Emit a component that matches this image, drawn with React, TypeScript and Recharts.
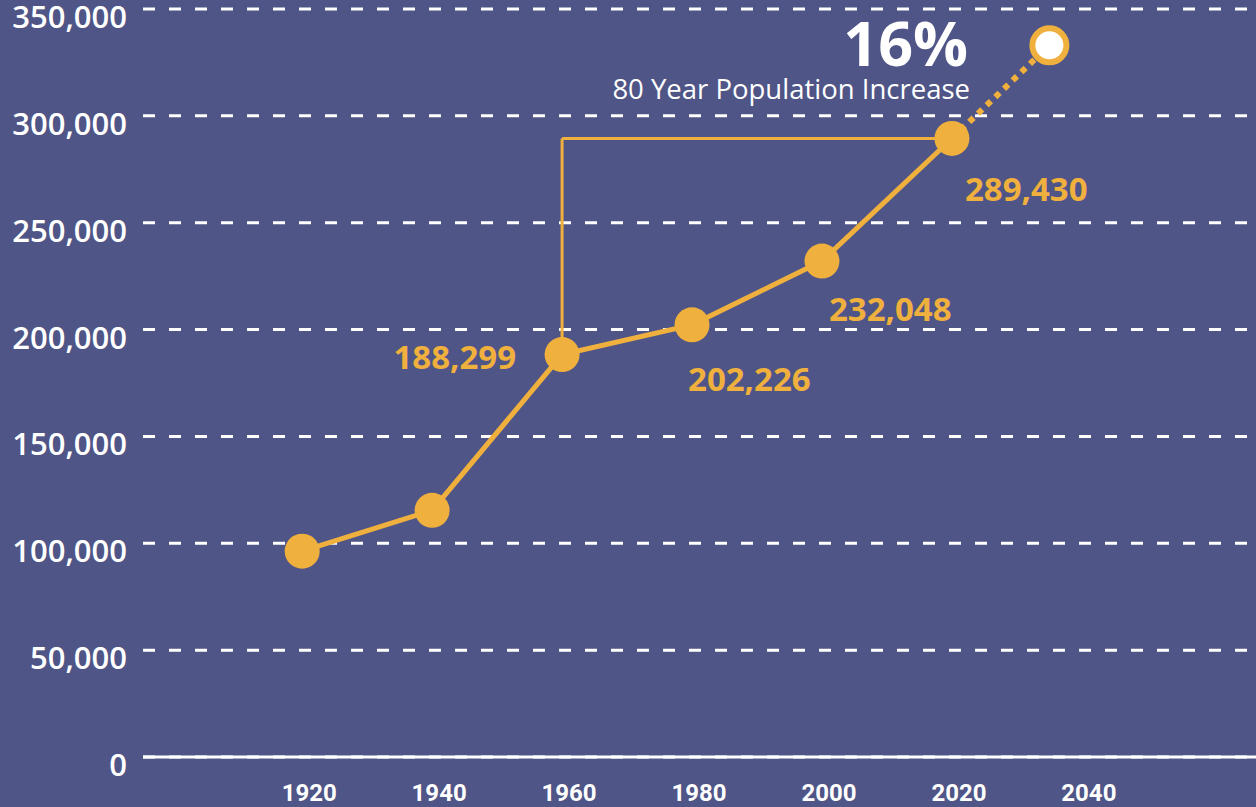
import { LineChart, Line, XAxis, YAxis, CartesianGrid, ReferenceLine, LabelList, Customized } from 'recharts';

const years = [1920, 1940, 1960, 1980, 2000, 2020];
const population = [96300, 115400, 188299, 202226, 232048, 289430];
const projectionYear = 2035;
const projectionValue = 333000;
const yTicks = [0, 50000, 100000, 150000, 200000, 250000, 300000, 350000];
const xTicks = [1920, 1940, 1960, 1980, 2000, 2020, 2040];
const headline = '16%';
const subline = '80 Year Population Increase';

const BG = '#4f5586';
const ORANGE = '#f0b03e';
const FONT = '"Open Sans", "Noto Sans", sans-serif';

const data = [
    ...years.map((year, i) => ({
        year,
        pop: population[i],
        proj: year === 2020 ? population[i] : undefined,
    })),
    { year: projectionYear, pop: undefined, proj: projectionValue },
];

// where each value label sits relative to its point
const labelOffsets: Record<number, { dx: number; dy: number; anchor: 'start' | 'end' } | null> = {
    2: { dx: -46, dy: 14, anchor: 'end' },
    3: { dx: -4, dy: 66, anchor: 'start' },
    4: { dx: 7, dy: 60, anchor: 'start' },
    5: { dx: 13, dy: 63, anchor: 'start' },
};

const YTick = ({ x, y, payload }: any) => (
    <text x={x - 16} y={y + 19} textAnchor="end" fill="#fff" fontSize={31} fontWeight={600} fontFamily={FONT}>
        {Number(payload.value).toLocaleString('en-US')}
    </text>
);

const XTick = ({ x, y, payload }: any) => (
    <text x={x + 7} y={y + 42} textAnchor="middle" fill="#fff" fontSize={24} fontWeight={700}
        fontFamily='"Liberation Sans Narrow", "Arial Narrow", "Roboto", sans-serif'>
        {payload.value}
    </text>
);

const ValueLabel = (props: any) => {
    const { x, y, value, index } = props;
    const off = labelOffsets[index];
    if (!off || value == null) return null;
    return (
        <text x={x + off.dx} y={y + off.dy} textAnchor={off.anchor} fill={ORANGE} fontSize={33} fontWeight={700} fontFamily={FONT}>
            {Number(value).toLocaleString('en-US')}
        </text>
    );
};

const ProjDot = (props: any) => {
    const { cx, cy, payload } = props;
    if (payload.year !== projectionYear) return <g key={`pd-${payload.year}`} />;
    return <circle key="pd-end" cx={cx} cy={cy} r={17} fill="#fff" stroke={ORANGE} strokeWidth={6} />;
};

const Annotation = () => (
    <g>
        <text x={968} y={66} textAnchor="end" fill="#fff" fontSize={61} fontWeight={700} fontFamily={FONT}>{headline}</text>
        <text x={970} y={99} textAnchor="end" fill="#fff" fontSize={27.5} fontWeight={400} fontFamily={FONT}>{subline}</text>
    </g>
);

export default function App() {
    return (
        <div style={{ width: 1256, height: 807, background: BG, overflow: 'hidden' }}>
            <style>{`body{margin:0;background:${BG}}`}</style>
            <LineChart width={1256} height={807} data={data} margin={{ top: 9, right: 0, bottom: 0, left: 0 }}>
                <CartesianGrid horizontal vertical={false} stroke="#fff" strokeWidth={3} strokeDasharray="12 14" />
                <XAxis
                    dataKey="year"
                    type="number"
                    domain={[1895.5, 2066.8]}
                    allowDataOverflow
                    ticks={xTicks}
                    height={50}
                    tickSize={0}
                    tickLine={false}
                    axisLine={{ stroke: '#fff', strokeWidth: 3 }}
                    tick={<XTick />}
                />
                <YAxis
                    domain={[0, 350000]}
                    ticks={yTicks}
                    width={143}
                    tickSize={0}
                    tickMargin={0}
                    axisLine={false}
                    tickLine={false}
                    tick={<YTick />}
                />
                <ReferenceLine
                    segment={[{ x: 1960, y: population[2] }, { x: 1960, y: population[5] }]}
                    stroke={ORANGE}
                    strokeWidth={3}
                    ifOverflow="visible"
                />
                <ReferenceLine
                    segment={[{ x: 1960, y: population[5] }, { x: 2020, y: population[5] }]}
                    stroke={ORANGE}
                    strokeWidth={3}
                    ifOverflow="visible"
                />
                <Line
                    dataKey="proj"
                    stroke={ORANGE}
                    strokeWidth={6}
                    strokeDasharray="6 6"
                    dot={<ProjDot />}
                    activeDot={false}
                    isAnimationActive={false}
                />
                <Line
                    dataKey="pop"
                    stroke={ORANGE}
                    strokeWidth={5}
                    dot={{ r: 17.5, fill: ORANGE, stroke: 'none' }}
                    activeDot={false}
                    isAnimationActive={false}
                >
                    <LabelList dataKey="pop" content={<ValueLabel />} />
                </Line>
                <Customized component={Annotation} />
            </LineChart>
        </div>
    );
}
